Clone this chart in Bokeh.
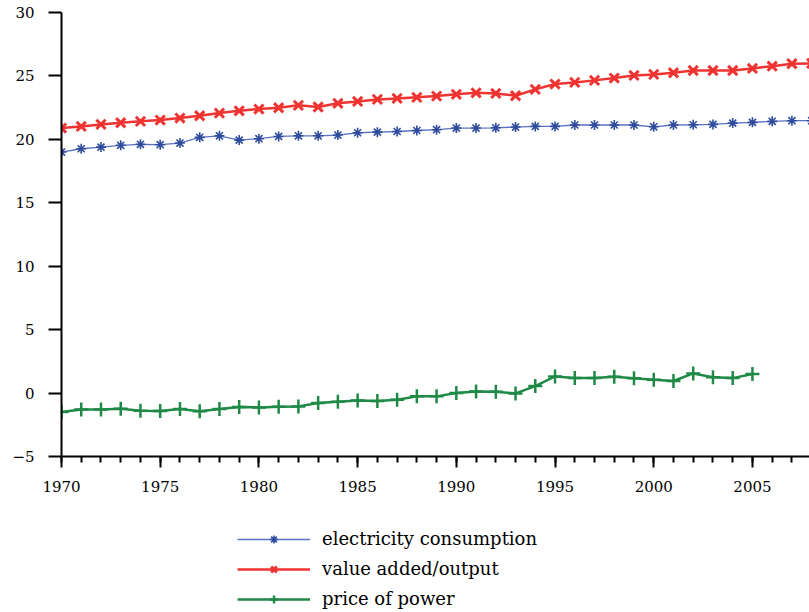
from bokeh.plotting import figure
from bokeh.layouts import column
from bokeh.models import Range1d, SingleIntervalTicker, Legend, LegendItem
from bokeh.embed import file_html
from bokeh.resources import INLINE

# ---- data ----
years = list(range(1970, 2009))
years_price = list(range(1970, 2006))

electricity_consumption = [
    19.00, 19.26, 19.39, 19.53, 19.61, 19.58, 19.71, 20.16, 20.28, 19.94,
    20.05, 20.23, 20.28, 20.28, 20.34, 20.52, 20.57, 20.62, 20.70, 20.76,
    20.89, 20.89, 20.91, 20.97, 21.02, 21.02, 21.13, 21.13, 21.13, 21.13,
    20.99, 21.13, 21.15, 21.18, 21.28, 21.34, 21.42, 21.47, 21.47,
]
value_added_output = [
    20.89, 21.02, 21.18, 21.31, 21.42, 21.52, 21.68, 21.86, 22.07, 22.25,
    22.39, 22.49, 22.68, 22.55, 22.84, 22.99, 23.15, 23.23, 23.31, 23.41,
    23.55, 23.67, 23.62, 23.44, 23.94, 24.36, 24.49, 24.65, 24.83, 25.04,
    25.12, 25.25, 25.43, 25.43, 25.43, 25.59, 25.77, 25.96, 25.99,
]
price_of_power = [
    -1.50, -1.29, -1.29, -1.24, -1.40, -1.42, -1.26, -1.44, -1.26, -1.10,
    -1.13, -1.08, -1.05, -0.79, -0.68, -0.58, -0.63, -0.53, -0.26, -0.26,
    0.00, 0.13, 0.10, -0.03, 0.55, 1.31, 1.18, 1.18, 1.29, 1.16,
    1.05, 0.95, 1.55, 1.24, 1.18, 1.50,
]
series_labels = ["electricity consumption", "value added/output", "price of power"]

FONT = "DejaVu Serif"
BLUE_LINE = "#5a72c4"
BLUE = "#2f4b9e"
RED = "#ee3330"
GREEN = "#1e8a46"

# ---------------- main chart ----------------
p = figure(width=809, height=506,
           x_range=Range1d(1970, 2007.89), y_range=Range1d(-5, 30),
           output_backend="svg", toolbar_location=None, title=None,
           min_border_left=61, min_border_right=0,
           min_border_top=12, min_border_bottom=50)
p.grid.visible = False
p.outline_line_color = None
p.background_fill_color = "white"

xa = p.xaxis[0]
xa.ticker = SingleIntervalTicker(interval=5, num_minor_ticks=5)
xa.axis_line_width = 2
xa.axis_line_color = "black"
xa.major_tick_line_width = 2
xa.minor_tick_line_width = 2
xa.major_tick_in = 0
xa.major_tick_out = 11
xa.minor_tick_in = 0
xa.minor_tick_out = 6
xa.major_label_standoff = 13
xa.major_label_text_font = FONT
xa.major_label_text_font_size = "15px"
xa.major_label_text_color = "black"

ya = p.yaxis[0]
ya.ticker = SingleIntervalTicker(interval=5, num_minor_ticks=0)
ya.axis_line_width = 2
ya.axis_line_color = "black"
ya.major_tick_line_width = 2
ya.major_tick_in = 0
ya.major_tick_out = 13
ya.minor_tick_line_color = None
ya.major_label_standoff = 14
ya.major_label_text_font = FONT
ya.major_label_text_font_size = "15px"
ya.major_label_text_color = "black"


def add_series(fig, xs, ys, line_color, line_width, marker, size, mcolor, mwidth):
    ln = fig.line(xs, ys, line_color=line_color, line_width=line_width)
    sc = fig.scatter(xs, ys, marker=marker, size=size, line_color=mcolor, line_width=mwidth)
    return ln, sc


add_series(p, years, electricity_consumption, BLUE_LINE, 1.3, "asterisk", 10, BLUE, 1.6)
add_series(p, years, value_added_output, RED, 2.5, "x", 13, RED, 3.0)
add_series(p, years_price, price_of_power, GREEN, 2.5, "cross", 14, GREEN, 2.5)

# ---------------- legend strip below the chart ----------------
q = figure(width=809, height=106, x_range=Range1d(0, 1), y_range=Range1d(0, 1),
           output_backend="svg", toolbar_location=None, title=None,
           x_axis_type=None, y_axis_type=None,
           min_border_left=0, min_border_right=0, min_border_top=0, min_border_bottom=0)
q.grid.visible = False
q.outline_line_color = None
q.background_fill_color = "white"

# proxies (same series, lying outside this strip's ranges, so only their legend glyphs show)
e_l, e_s = add_series(q, years, electricity_consumption, BLUE_LINE, 1.3, "asterisk", 10, BLUE, 1.6)
v_l, v_s = add_series(q, years, value_added_output, RED, 2.5, "x", 13, RED, 3.0)
r_l, r_s = add_series(q, years_price, price_of_power, GREEN, 2.5, "cross", 14, GREEN, 2.5)

legend = Legend(
    items=[LegendItem(label=series_labels[0], renderers=[e_l, e_s]),
           LegendItem(label=series_labels[1], renderers=[v_l, v_s]),
           LegendItem(label=series_labels[2], renderers=[r_l, r_s])],
    location=(176, 3), orientation="vertical",
    glyph_width=73, glyph_height=20, label_height=20, spacing=9,
    padding=0, margin=0, border_line_color=None, background_fill_alpha=0,
    label_standoff=12, label_text_font=FONT, label_text_font_size="18px",
    label_text_color="black",
)
q.add_layout(legend)

open("out.html", "w").write(file_html(column(p, q, spacing=0), INLINE))
